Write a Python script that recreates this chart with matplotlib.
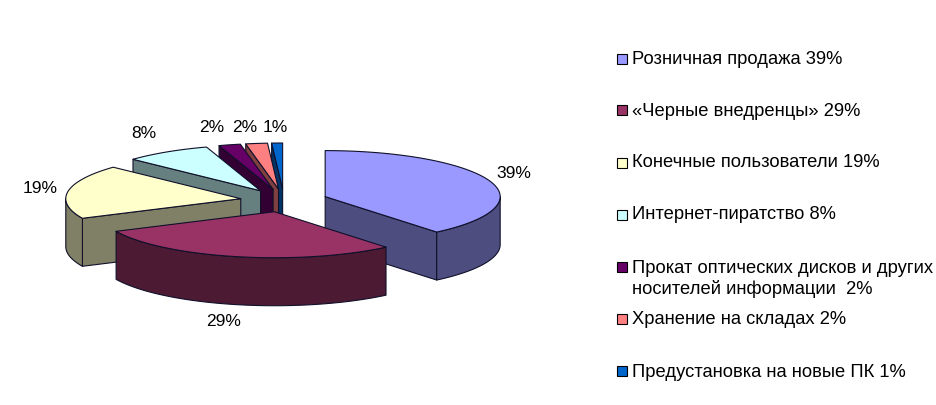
# plot.py
# exploded 3D-looking pie, drawn as polygons in pixel coordinates
import numpy as np
import matplotlib
matplotlib.use("Agg")
import matplotlib.pyplot as plt
from matplotlib.patches import Polygon, Rectangle

plt.rcParams['font.family'] = ['Liberation Sans', 'DejaVu Sans']

# ========== data ==========
values = [39, 29, 19, 8, 2, 2, 1]
legend_labels = [
    "Розничная продажа 39%",
    "«Черные внедренцы» 29%",
    "Конечные пользователи 19%",
    "Интернет-пиратство 8%",
    "Прокат оптических дисков и других\nносителей информации  2%",
    "Хранение на складах 2%",
    "Предустановка на новые ПК 1%",
]
top_colors = ["#9999FF", "#993366", "#FFFFCC", "#CCFFFF", "#660066", "#FF8080", "#0066CC"]
wall_colors = ["#4D4D80", "#4D1A33", "#808066", "#668080", "#330033", "#804040", "#003366"]

# ========== layout ==========
W, H = 937, 406
CX, CY = 284, 201.5
RX, RY = 175, 46
DEPTH = 48
EXPLODE = 0.25
EDGE = "#10102A"
LW = 0.8
draw_order = [6, 5, 4, 3, 2, 0, 1]   # back to front
label_pos = [(514, 174), (224, 322), (40, 189), (144, 134), (212, 127), (245, 127), (275, 127)]
legend_y = [59.5, 111, 164, 216, 268, 320, 372]
legend_text_y = [59, 111, 163, 215, 279, 320, 373]

fig = plt.figure(figsize=(W / 100, H / 100), dpi=100)
ax = fig.add_axes([0, 0, 1, 1])
ax.set_xlim(0, W)
ax.set_ylim(H, 0)
ax.axis("off")


def rim(cx, cy, a0, a1):
    # angles in degrees, clockwise from 12 o'clock
    t = np.radians(np.linspace(a0, a1, max(int(abs(a1 - a0)) * 2, 2)))
    return np.column_stack([cx + RX * np.sin(t), cy - RY * np.cos(t)])


def add_poly(pts, color):
    ax.add_patch(Polygon(pts, closed=True, facecolor=color, edgecolor=EDGE, linewidth=LW, joinstyle="round"))


def radial_wall(cx, cy, ang, color):
    edge = rim(cx, cy, ang, ang)[0]
    add_poly([(cx, cy), edge, edge + [0, DEPTH], (cx, cy + DEPTH)], color)


angles = np.cumsum([0] + values) * 3.6

for i in draw_order:
    a0, a1 = angles[i], angles[i + 1]
    mid = np.radians((a0 + a1) / 2)
    cx = CX + EXPLODE * RX * np.sin(mid)
    cy = CY - EXPLODE * RY * np.cos(mid)

    # cut faces that look towards the viewer
    if np.sin(np.radians(a0)) < -1e-6:
        radial_wall(cx, cy, a0, wall_colors[i])
    if np.sin(np.radians(a1)) > 1e-6:
        radial_wall(cx, cy, a1, wall_colors[i])

    # outer side, only the front half of the rim
    lo, hi = max(a0, 90), min(a1, 270)
    if hi > lo:
        arc = rim(cx, cy, lo, hi)
        add_poly(np.vstack([arc, arc[::-1] + [0, DEPTH]]), wall_colors[i])

    # top face
    add_poly(np.vstack([[(cx, cy)], rim(cx, cy, a0, a1)]), top_colors[i])

# percent labels
for v, (x, y) in zip(values, label_pos):
    ax.text(x, y, f"{v}%", fontsize=12.5, ha="center", va="center", color="black")

# legend
for i, label in enumerate(legend_labels):
    ax.add_patch(Rectangle((617, legend_y[i] - 5), 10, 10, facecolor=top_colors[i], edgecolor="black", linewidth=0.8))
    ax.text(632, legend_text_y[i], label, fontsize=13.2, ha="left", va="center", color="black", linespacing=1.25)

fig.savefig("out.png", dpi=100, facecolor="white")
